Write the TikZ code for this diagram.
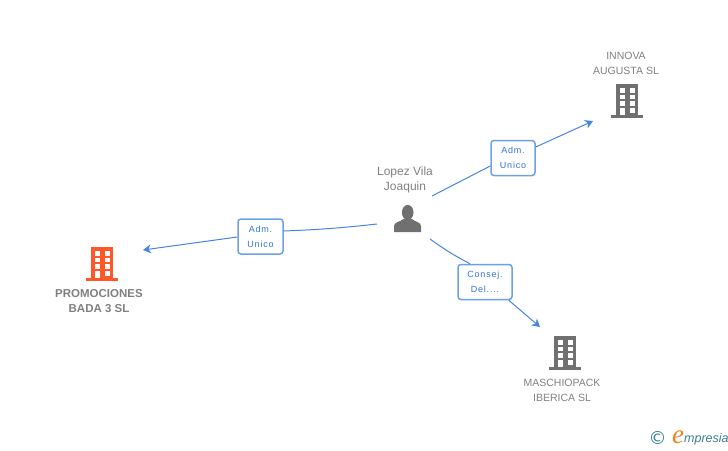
\documentclass[tikz,border=0pt]{standalone}
\usepackage{fontspec}
\setmainfont{Liberation Sans}
\newfontfamily\spacedfont[LetterSpace=9]{Liberation Sans}
\newfontfamily\symfont{DejaVu Sans}
\newfontfamily\logofont{Liberation Serif}
\usetikzlibrary{arrows.meta}
\definecolor{linkblue}{RGB}{70,132,226}
\definecolor{boxblue}{RGB}{110,160,232}
\definecolor{roletext}{RGB}{50,115,215}
\definecolor{labelgray}{RGB}{128,128,128}
\definecolor{iconorange}{RGB}{255,87,40}
\definecolor{icongray}{RGB}{112,112,112}
\definecolor{logoteal}{RGB}{60,125,145}
\definecolor{logoorange}{RGB}{240,130,30}
\tikzset{
  link/.style={linkblue, line width=1pt},
  arrowlink/.style={link, -{Stealth[length=8pt,width=9pt]}},
  rolebox/.style={draw=boxblue, line width=1.5pt, rounded corners=3pt, fill=white, text=roletext,
    font=\spacedfont\fontsize{9}{15}\selectfont, align=center, inner sep=0pt, minimum height=35pt},
  namelabel/.style={text=labelgray, font=\fontsize{10.5}{15}\selectfont, align=center, inner sep=0pt},
  pics/bldg/.style={code={
    \fill[#1] (-11,0) rectangle (11,31);
    \fill[#1] (-16,31) rectangle (16,34);
    \foreach \y in {4,10.6,17} {
      \fill[white] (-7.5,\y) rectangle (-2.5,\y+4.6);
      \fill[white] (2.5,\y) rectangle (7.5,\y+4.6);
    }
    \fill[white] (-7.5,24) rectangle (-2.5,31);
    \fill[white] (2.5,24) rectangle (7.5,28.5);
  }},
}
\begin{document}
\begin{tikzpicture}[x=1pt,y=-1pt]
  \useasboundingbox (0,0) rectangle (728,450);
  % buildings
  \pic at (102,247) {bldg=iconorange};
  \pic at (627,84) {bldg=icongray};
  \pic at (565,336) {bldg=icongray};
  % person
  \fill[icongray] (407.7,212.5) ellipse (5.8 and 7.6);
  \fill[icongray] (394,232) -- (394,226) .. controls (394,222) and (400,222) .. (403.5,219)
    -- (412,219) .. controls (415,222) and (421,222) .. (421,226) -- (421,232) -- cycle;
  % names
  \node[namelabel, font=\fontsize{12}{15}\selectfont] (lopez) at (405,179.5) {Lopez Vila\\Joaquin};
  \node[namelabel] (innova) at (626,63.5) {INNOVA\\AUGUSTA SL};
  \node[namelabel] (maschio) at (562,390) {MASCHIOPACK\\IBERICA SL};
  \node[namelabel, font=\bfseries\fontsize{11.5}{15}\selectfont] (promo) at (99,301.5) {PROMOCIONES\\BADA 3 SL};
  % role boxes
  \node[rolebox, minimum width=45pt] (adm1) at (260.5,236.5) {Adm.\\Unico};
  \node[rolebox, minimum width=44pt] (adm2) at (513,158) {Adm.\\Unico};
  \node[rolebox, minimum width=54pt] (consej) at (485,282) {Consej.\\Del....};
  % free ends
  \coordinate (from1) at (377,224);
  \coordinate (from2) at (432,196);
  \coordinate (from3) at (430,239);
  \coordinate (promoin) at (143,250);
  \coordinate (innovain) at (593,121);
  \coordinate (maschioin) at (540,327);
  % connectors
  \draw[link] (from1) to[bend left=2] (adm1.east |- 0,231);
  \draw[arrowlink] (adm1.west |- 0,237) -- (promoin);
  \draw[link] (from2) -- (adm2.west |- 0,166);
  \draw[arrowlink] (adm2.east |- 0,147) -- (innovain);
  \draw[link] (from3) to[bend right=4] ([xshift=-15pt]consej.north);
  \draw[arrowlink] ([xshift=-4pt]consej.south east) -- (maschioin);
  % logo
  \node[inner sep=0pt, text=logoteal, font=\symfont\fontsize{18}{18}\selectfont] (copyr) at (657.5,438) {©};
  \node[inner sep=0pt, text=logoorange, font=\logofont\itshape\fontsize{27}{27}\selectfont] (logoe) at (678,437.5) {e};
  \node[inner sep=0pt, anchor=base west, text=logoteal, font=\itshape\fontsize{12.5}{12.5}\selectfont] (logotxt) at (684,442.5) {mpresia};
\end{tikzpicture}
\end{document}
